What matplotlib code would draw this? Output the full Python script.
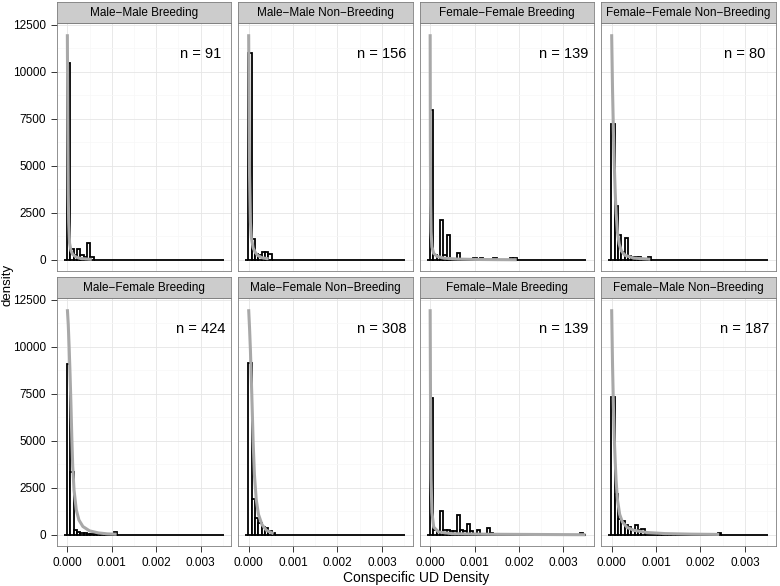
import numpy as np
import matplotlib
matplotlib.use("Agg")
import matplotlib.pyplot as plt

plt.rcParams['font.family'] = ['Liberation Sans', 'DejaVu Sans']

panel_titles = ["Male−Male Breeding", "Male−Male Non−Breeding",
                "Female−Female Breeding", "Female−Female Non−Breeding",
                "Male−Female Breeding", "Male−Female Non−Breeding",
                "Female−Male Breeding", "Female−Male Non−Breeding"]
sample_sizes = [91, 156, 139, 80, 424, 308, 139, 187]

# histogram bins shared by every facet
bin_start = -0.00008
bin_width = 0.000075
n_bins = 48

# bar heights (density), first value = first bin right of zero, rest are zero
mm_breed = [10450, 590, 290, 590, 290, 150, 880, 150]
mm_nonbreed = [11000, 1110, 300, 260, 400, 400, 340]
ff_breed = [7970, 270, 0, 2100, 240, 1340, 0, 0, 370, 0, 0, 0, 0, 96, 0, 96,
            0, 0, 0, 96, 0, 0, 0, 0, 96, 96]
ff_nonbreed = [7210, 2850, 1345, 400, 1170, 200, 170, 140, 140, 0, 0, 180]
mf_breed = [9080, 3340, 250, 160, 120, 100, 70, 70, 35, 35, 35, 0, 0, 0, 160]
mf_nonbreed = [9120, 1900, 900, 650, 430, 350, 200, 90]
fm_breed = [7260, 290, 190, 1250, 290, 290, 190, 190, 1050, 290, 190, 575,
            190, 0, 290, 0, 0, 385, 96, 0, 0, 0, 0, 0, 70] + [0] * 20 + [100]
fm_nonbreed = [7320, 2190, 830, 720, 510, 425, 285, 510, 285, 340, 0, 0, 0, 0,
               70, 0, 0, 70, 70] + [0] * 13 + [100]

# fitted density curves (grey)
mm_breed_cx = [0, 0.00001, 0.00002, 0.00003, 0.00005, 0.00008, 0.00012, 0.0002, 0.0003, 0.00055]
mm_breed_cy = [12000, 7000, 3500, 2000, 900, 500, 300, 150, 80, 30]
mm_nonbreed_cx = [0, 0.00001, 0.00002, 0.00004, 0.00006, 0.0001, 0.00015, 0.0002, 0.0003, 0.00045]
mm_nonbreed_cy = [12000, 7500, 4500, 2000, 1200, 650, 400, 250, 120, 60]
ff_breed_cx = [0, 0.000005, 0.00001, 0.00002, 0.00004, 0.00008, 0.00015, 0.0003, 0.0006, 0.001, 0.0015, 0.00195]
ff_breed_cy = [12000, 6000, 3000, 1500, 700, 350, 200, 100, 50, 30, 20, 15]
ff_nonbreed_cx = [0, 0.00001, 0.00002, 0.00004, 0.00006, 0.00008, 0.0001, 0.00013,
                  0.00017, 0.00022, 0.0003, 0.0005, 0.00087]
ff_nonbreed_cy = [12000, 10500, 9000, 6800, 5000, 3600, 2500, 1500, 850, 480, 250, 100, 40]
mf_breed_cx = [0, 0.00002, 0.00004, 0.00006, 0.00008, 0.0001, 0.00012, 0.00015, 0.0002,
               0.00026, 0.00035, 0.0005, 0.0007, 0.0009, 0.00111]
mf_breed_cy = [12000, 11200, 10000, 8600, 7000, 5200, 3700, 2400, 1350, 800, 450, 220, 110, 60, 40]
mf_nonbreed_cx = [0, 0.00002, 0.00004, 0.00006, 0.00008, 0.0001, 0.00013, 0.00017,
                  0.00022, 0.0003, 0.0004, 0.00056]
mf_nonbreed_cy = [12000, 11000, 9800, 8300, 6700, 5000, 3200, 1900, 1100, 550, 250, 70]
fm_breed_cx = [0, 0.00001, 0.00002, 0.00004, 0.00008, 0.00019, 0.0005, 0.0013, 0.0035]
fm_breed_cy = [12000, 6000, 3000, 1200, 420, 160, 70, 40, 15]
fm_nonbreed_cx = [0, 0.00001, 0.00002, 0.00004, 0.00006, 0.00008, 0.0001, 0.00013, 0.00018,
                  0.00024, 0.00035, 0.0005, 0.0008, 0.0012, 0.0018, 0.00242]
fm_nonbreed_cy = [12000, 10500, 9000, 6800, 5100, 3900, 2900, 1900, 1100, 700, 400, 250,
                  130, 75, 45, 30]

x_ticks = [0.000, 0.001, 0.002, 0.003]
x_labels = ["0.000", "0.001", "0.002", "0.003"]
y_ticks = [0, 2500, 5000, 7500, 10000, 12500]

hists = [mm_breed, mm_nonbreed, ff_breed, ff_nonbreed,
         mf_breed, mf_nonbreed, fm_breed, fm_nonbreed]
curves = [(mm_breed_cx, mm_breed_cy), (mm_nonbreed_cx, mm_nonbreed_cy),
          (ff_breed_cx, ff_breed_cy), (ff_nonbreed_cx, ff_nonbreed_cy),
          (mf_breed_cx, mf_breed_cy), (mf_nonbreed_cx, mf_nonbreed_cy),
          (fm_breed_cx, fm_breed_cy), (fm_nonbreed_cx, fm_nonbreed_cy)]

W, H = 780, 586
fig = plt.figure(figsize=(W / 100, H / 100), dpi=100)

col_left = [56.7, 238.0, 419.5, 601.0]
panel_w = 174.5
row_top = [23.3, 298.3]
panel_h = 247.8
strip_h = 20.5

edges = bin_start + bin_width * np.arange(n_bins)

for i in range(8):
    r, c = divmod(i, 4)
    left = col_left[c] / W
    bottom = (H - row_top[r] - panel_h) / H
    ax = fig.add_axes([left, bottom, panel_w / W, panel_h / H])

    heights = np.zeros(n_bins)
    vals = hists[i]
    heights[1:1 + len(vals)] = vals

    ax.set_axisbelow(True)
    ax.bar(edges, heights, width=bin_width, align='edge', facecolor='white',
           edgecolor='black', linewidth=1.3, zorder=2)
    cx, cy = curves[i]
    ax.plot(cx, cy, color='#A8A8A8', linewidth=2.2, zorder=3,
            solid_capstyle='butt', solid_joinstyle='round')
    ax.text(0.003, 10970, "n = %d" % sample_sizes[i], ha='center', va='center',
            fontsize=10.5, zorder=4)

    ax.set_xlim(-0.00024, 0.00369)
    ax.set_ylim(-590, 12580)
    ax.set_xticks(x_ticks)
    ax.set_xticks([0.0005, 0.0015, 0.0025, 0.0035], minor=True)
    ax.set_yticks(y_ticks)
    ax.set_yticks([1250, 3750, 6250, 8750, 11250], minor=True)
    ax.grid(which='major', color='#E5E5E5', linewidth=0.6)
    ax.grid(which='minor', color='#F7F7F7', linewidth=0.5)
    ax.tick_params(which='minor', length=0)
    ax.tick_params(which='major', length=4.5, width=0.7, color='#333333',
                   labelsize=8.5, pad=3)
    if r == 1:
        ax.set_xticklabels(x_labels)
    else:
        ax.tick_params(axis='x', which='major', length=0, labelbottom=False)
    if c == 0:
        ax.set_yticklabels([str(v) for v in y_ticks])
    else:
        ax.tick_params(axis='y', which='major', length=0, labelleft=False)
    for s in ax.spines.values():
        s.set_color('#7F7F7F')
        s.set_linewidth(0.6)

    sax = fig.add_axes([left, (H - row_top[r] + 0.5) / H, panel_w / W, strip_h / H])
    sax.set_facecolor('#CCCCCC')
    sax.set_xticks([])
    sax.set_yticks([])
    for s in sax.spines.values():
        s.set_color('#7F7F7F')
        s.set_linewidth(0.6)
    sax.text(0.5, 0.5, panel_titles[i], ha='center', va='center',
             fontsize=8.5, transform=sax.transAxes)

fig.text(416 / W, 1 - 578 / H, "Conspecific UD Density", ha='center',
         va='center', fontsize=10)
fig.text(8 / W, 1 - 285 / H, "density", ha='center', va='center',
         rotation=90, fontsize=9.5)

fig.savefig("out.png", dpi=100)
